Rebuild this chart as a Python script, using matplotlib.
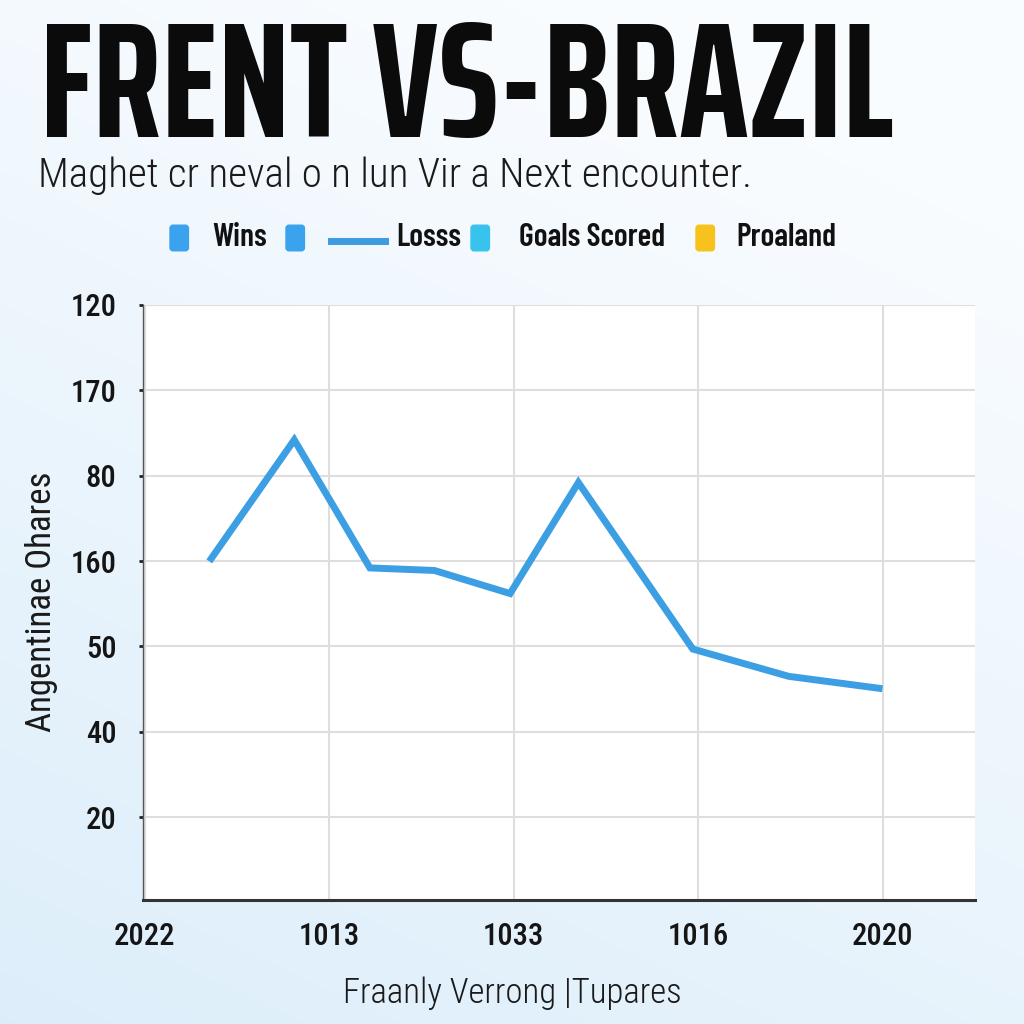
import numpy as np
import matplotlib.pyplot as plt
from matplotlib.patches import FancyBboxPatch
from matplotlib.lines import Line2D
from matplotlib.font_manager import FontProperties
from matplotlib.textpath import TextPath

# chart data (positions, in tick units)
x_labels = ['2022', '1013', '1033', '1016', '2020']
y_labels = ['20', '40', '50', '160', '80', '170', '120']
series_x = [0.36, 0.81, 1.22, 1.57, 1.98, 2.35, 2.97, 3.49, 3.98]
series_y = [4.03, 5.42, 3.92, 3.89, 3.62, 4.92, 2.97, 2.65, 2.51]

legend_names = ['Wins', '', 'Losss', 'Goals Scored', 'Proaland']
legend_colors = ['#3ba2ee', '#3ba2ee', '#3d9be0', '#38c3ee', '#f7c21c']

title = 'FRENT VS-BRAZIL'
subtitle = 'Maghet cr neval o n lun Vir a Next encounter.'
y_title = 'Angentinae Ohares'
x_title = 'Fraanly Verrong |Tupares'

cond = ['Roboto Condensed', 'DejaVu Sans']
candidates = ['Fira Sans Extra Condensed', 'Saira ExtraCondensed', 'Barlow Condensed',
              'Roboto Condensed', 'Saira Condensed']


def fit_font(text, weight, width_px, cap_px):
    # pick the condensed family whose shape best matches width and cap height
    best = None
    for fam in candidates:
        fp = FontProperties(family=fam, weight=weight)
        p = TextPath((0, 0), text, size=100, prop=fp).get_extents()
        cap = TextPath((0, 0), 'E', size=100, prop=fp).get_extents().height
        size = 100 * width_px / (p.width * 100 / 72)
        cap_at = cap * size / 100 * 100 / 72
        err = abs(cap_at - cap_px)
        if best is None or err < best[0]:
            best = (err, fam, size, cap)
    return best[1], best[2], best[3]


fig = plt.figure(figsize=(10.24, 10.24), dpi=100)

# background gradient
bg = fig.add_axes([0, 0, 1, 1])
yy, xx = np.mgrid[0:1:256j, 0:1:256j]
t = np.clip(0.75 * yy + 0.35 * (1 - xx) - 0.15, 0, 1)
top = np.array([0.98, 0.99, 1.0])
bot = np.array([0.86, 0.93, 0.98])
img = top[None, None, :] * (1 - t[..., None]) + bot[None, None, :] * t[..., None]
bg.imshow(img, aspect='auto', extent=[0, 1, 0, 1], origin='upper')
bg.set_axis_off()

# titles: size the title by its cap height (about 113 px tall)
t_fam, _, t_cap = fit_font(title, 'bold', 908, 112)
t_size = 113 * 72 / 100 / (t_cap / 100)
fig.text(40 / 1024, 1 - 137 / 1024, title, fontsize=t_size, fontweight='bold', family=t_fam,
         color='#0b0b0b', va='baseline')
fig.text(38 / 1024, 1 - 187 / 1024, subtitle, fontsize=29.6, fontweight='light', family=cond,
         color='#1a1a1a', va='baseline')

# legend row
l_fam, l_size, _ = fit_font('Goals Scored', 'semibold', 143, 22)
ly = 1 - 238 / 1024
sq_x = [170, 286, None, 471, 696]
txt_x = [212, None, 396, 519, 736]
for i, name in enumerate(legend_names):
    c = legend_colors[i]
    if sq_x[i] is not None:
        fig.patches.append(FancyBboxPatch((sq_x[i] / 1024, ly - 0.0125), 0.018, 0.025,
                                          boxstyle='round,pad=0,rounding_size=0.003',
                                          transform=fig.transFigure, color=c))
    if name == 'Losss':
        fig.lines.append(Line2D([331 / 1024, 385 / 1024], [ly - 0.003, ly - 0.003], lw=5,
                                color=c, transform=fig.transFigure))
    if txt_x[i] is not None:
        fig.text(txt_x[i] / 1024, ly, name, fontsize=l_size, fontweight='semibold', family=l_fam,
                 va='center', color='#111111')

# main axes
ax = fig.add_axes([143 / 1024, 1 - 900 / 1024, 832 / 1024, 595 / 1024])
ax.set_facecolor('white')
ax.plot(series_x, series_y, color='#3d9fe3', lw=5, solid_joinstyle='miter', zorder=3)

ax.set_xlim(-0.01, 4.5)
ax.set_ylim(0.03, 7.0)
ax.set_xticks(range(len(x_labels)))
ax.set_xticklabels(x_labels)
ax.set_yticks(range(1, len(y_labels) + 1))
ax.set_yticklabels(y_labels)
ax.grid(True, color='#dedede', lw=1.5)
ax.set_axisbelow(True)

for s in ['top', 'right']:
    ax.spines[s].set_visible(False)
ax.spines['left'].set_color('#555555')
ax.spines['left'].set_linewidth(1)
ax.spines['bottom'].set_color('#333333')
ax.spines['bottom'].set_linewidth(2.2)

ax.tick_params(axis='y', length=3, width=2, color='#222222', pad=16)
ax.tick_params(axis='x', length=0, pad=16)
for lab in ax.get_xticklabels() + ax.get_yticklabels():
    lab.set_family(cond)
    lab.set_fontweight('medium')
    lab.set_fontsize(22)
    lab.set_color('#151515')

fig.text(42 / 1024, 1 - 602 / 1024, y_title, rotation=90, fontsize=25, family=cond,
         ha='center', va='center', color='#1a1a1a')
fig.text(512 / 1024, 1 - 993 / 1024, x_title, fontsize=25, fontweight='light', family=cond,
         ha='center', va='center', color='#1a1a1a')

fig.savefig('out.png', dpi=100)
